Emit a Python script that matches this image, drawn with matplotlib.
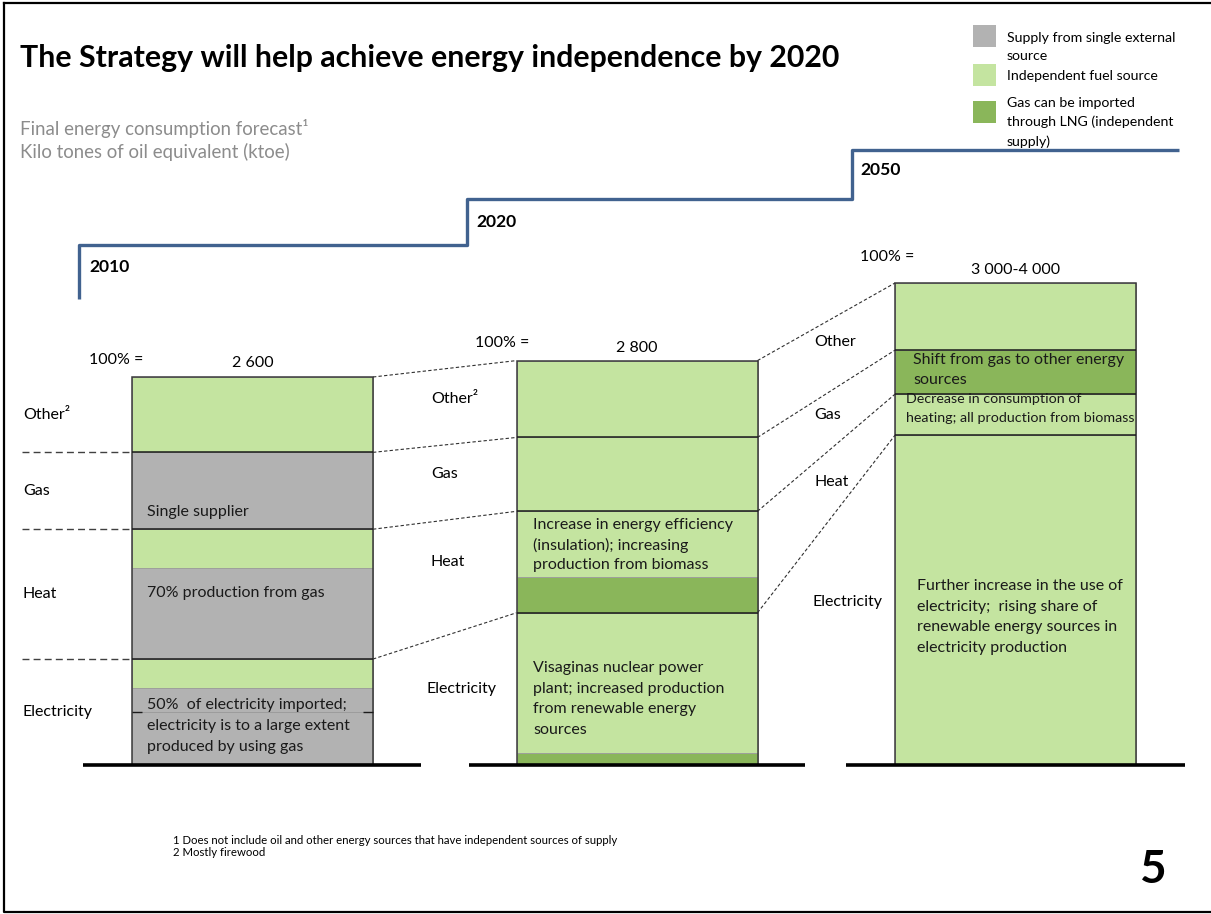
import matplotlib.pyplot as plt
from matplotlib.patches import Rectangle

plt.rcParams['font.family'] = ['Lato', 'DejaVu Sans']

# | colours |-----------------------------------------------------------------------------------------------|
GRAY = "#b2b2b2"
LIGHT = "#c4e4a0"
DARK = "#8ab65a"
BLUE = "#41628f"
src_color = {"single": GRAY, "indep": LIGHT, "lng": DARK}

# | data (ktoe, bottom to top) |---------------------------------------------------------------------------|
cats = ["Electricity", "Heat", "Gas", "Other\u00b2"]

seg_2010 = [355, 160, 195, 610, 260, 515, 505]
src_2010 = ["single", "single", "indep", "single", "indep", "single", "indep"]
cat_2010 = [0, 0, 0, 1, 1, 2, 3]

seg_2020 = [80, 940, 240, 440, 495, 515]
src_2020 = ["lng", "indep", "lng", "indep", "indep", "indep"]
cat_2020 = [0, 0, 1, 1, 2, 3]

seg_2050 = [2210, 275, 295, 450]
src_2050 = ["indep", "indep", "lng", "indep"]
cat_2050 = [0, 1, 2, 3]

years = ["2010", "2020", "2050"]
total_labels = ["2 600", "2 800", "3 000-4 000"]

# | layout |------------------------------------------------------------------------------------------------|
W, H = 1211, 914
BASE = 765          # pixel row of the zero line
K = 388 / 2600      # pixels per ktoe
centers = [252.5, 637, 1015.5]
BW = 241

fig = plt.figure(figsize=(W / 100, H / 100), dpi=100)
bax = fig.add_axes([0, 0, 1, 1])
bax.set_xlim(0, W)
bax.set_ylim(-(H - BASE) / K, BASE / K)
bax.axis("off")

ax = fig.add_axes([0, 0, 1, 1])
ax.set_xlim(0, W)
ax.set_ylim(H, 0)
ax.axis("off")
ax.patch.set_alpha(0)

bars = [(seg_2010, src_2010, cat_2010), (seg_2020, src_2020, cat_2020), (seg_2050, src_2050, cat_2050)]
cat_tops = []
cat_bottoms = []
for (segs, srcs, cs), xc in zip(bars, centers):
    bottom = 0
    tops = [0] * 4
    bots = [None] * 4
    for v, s, c in zip(segs, srcs, cs):
        bax.bar(xc, v, BW, bottom=bottom, color=src_color[s], edgecolor="#9a9a9a", linewidth=0.6)
        if bots[c] is None:
            bots[c] = bottom
        bottom += v
        tops[c] = bottom
    cat_tops.append(tops)
    cat_bottoms.append(bots)
    # category boundaries and outline
    bax.hlines(tops[:-1], xc - BW / 2, xc + BW / 2, color="#1a1a1a", linewidth=1.1)
    bax.bar(xc, bottom, BW, fill=False, edgecolor="#3a3a3a", linewidth=1.1)

# small ticks at the split of imported electricity (2010)
split = seg_2010[0]
for x0 in (centers[0] - BW / 2, centers[0] + BW / 2 - 10):
    bax.hlines(split, x0, x0 + 10, color="#1a1a1a", linewidth=1)

# dashed guides left of the 2010 bar
bax.hlines(cat_tops[0][:-1], 22, centers[0] - BW / 2, color="#404040", linewidth=1, linestyles=(0, (5, 3)))

# connectors between bars
for i in range(2):
    x0 = centers[i] + BW / 2
    x1 = centers[i + 1] - BW / 2
    for c in range(4):
        bax.plot([x0, x1], [cat_tops[i][c], cat_tops[i + 1][c]], color="#303030", linewidth=0.8,
                 linestyle=(0, (3, 2)))

# baselines
for xc, (l, r) in zip(centers, [(83, 421), (469, 805), (846, 1185)]):
    bax.hlines(0, l, r, color="black", linewidth=2.6)

# category labels
for i, x in enumerate([23, 431]):
    for c in range(4):
        y = (cat_tops[i][c] + cat_bottoms[i][c]) / 2
        bax.text(x - (4 if i == 1 and c == 0 else 0), y, cats[c], fontsize=11.5, va="center", ha="left")
for txt, y in zip(["Electricity", "Heat", "Gas", "Other"], [602, 482, 415, 342]):
    ax.text(812 if txt == "Electricity" else 814, y, txt, fontsize=11.5, va="center", ha="left")

# 100% labels
for (px, py), xc, lab, ty in zip([(89, 360), (475, 343), (860, 257)], centers, total_labels, [363, 348, 270]):
    ax.text(px, py, "100% =", fontsize=11.5, va="center", ha="left")
    ax.text(xc, ty, lab, fontsize=11.5, va="center", ha="center")

# text inside bars
notes = [
    (147, 512, "Single supplier", 11.5, 20),
    (147, 593, "70% production from gas", 11.5, 20),
    (147, 705, "50%  of electricity imported;\nelectricity is to a large extent\nproduced by using gas", 11.5, 21),
    (533, 525, "Increase in energy efficiency\n(insulation); increasing\nproduction from biomass", 11.5, 20),
    (533, 668, "Visaginas nuclear power\nplant; increased production\nfrom renewable energy\nsources", 11.5, 20.5),
    (913, 360, "Shift from gas to other energy\nsources", 11.5, 20),
    (906, 399, "Decrease in consumption of\nheating; all production from biomass", 10.3, 19),
    (917, 586, "Further increase in the use of\nelectricity;  rising share of\nrenewable energy sources in\nelectricity production", 11.5, 20.7),
]
for x, y, txt, fs, step in notes:
    for j, line in enumerate(txt.split("\n")):
        ax.text(x, y + j * step, line, fontsize=fs, va="center", ha="left", color="#1a1a1a")

# step line with years
step_x = [79, 79, 467, 467, 852, 852, 1179]
step_y = [299, 245, 245, 199, 199, 150, 150]
ax.plot(step_x, step_y, color=BLUE, linewidth=2.4, solid_capstyle="butt")
for x, y, yr in zip([89, 476, 860], [267, 222, 170], years):
    ax.text(x, y, yr, fontsize=12.6, fontweight="bold", va="center", ha="left")

# title and subtitles
ax.text(20, 58, "The Strategy will help achieve energy independence by 2020", fontsize=21.8,
        fontweight="bold", va="center", ha="left")
ax.text(20, 129, "Final energy consumption forecast\u00b9", fontsize=13.4, color="#8c8c8c", va="center")
ax.text(20, 152, "Kilo tones of oil equivalent (ktoe)", fontsize=13.4, color="#8c8c8c", va="center")

# legend
legend_items = [
    (25, GRAY, ["Supply from single external", "source"]),
    (64, LIGHT, ["Independent fuel source"]),
    (101, DARK, ["Gas can be imported", "through LNG (independent", "supply)"]),
]
text_rows = [[37.7, 55.7], [75.7], [103, 122, 141.7]]
for (y0, col, lines), rows in zip(legend_items, text_rows):
    ax.add_patch(Rectangle((973, y0), 23, 22, facecolor=col, edgecolor="none"))
    for line, ty in zip(lines, rows):
        ax.text(1007, ty, line, fontsize=10.2, va="center", ha="left")

# footnotes and page number
ax.text(173, 841, "1 Does not include oil and other energy sources that have independent sources of supply",
        fontsize=8.2, va="center")
ax.text(173, 853, "2 Mostly firewood", fontsize=8.2, va="center")
ax.text(1153, 870, "5", fontsize=33, fontweight="bold", va="center", ha="center")

# frame
ax.plot([4, 4, W], [3, 912, 912], color="black", linewidth=1.6)
ax.plot([4, W], [3, 3], color="black", linewidth=1.6)

fig.savefig("out.png", dpi=100)
